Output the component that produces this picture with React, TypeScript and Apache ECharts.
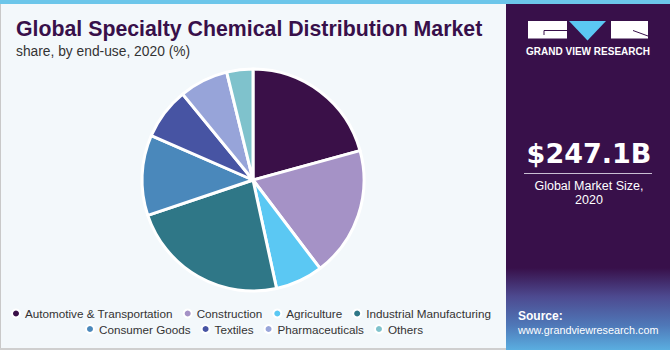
import React, { useEffect, useRef } from "react";
import * as echarts from "echarts";

const categories = [
  "Automotive & Transportation",
  "Construction",
  "Agriculture",
  "Industrial Manufacturing",
  "Consumer Goods",
  "Textiles",
  "Pharmaceuticals",
  "Others",
];
const shares = [20.7, 18.9, 6.9, 23.2, 11.7, 7.5, 7.1, 3.8];
const colors = ["#3a1048", "#a592c6", "#5bc8f3", "#2f7787", "#4a88bb", "#4754a3", "#97a4d9", "#7fc2cc"];
const legendRow1 = categories.slice(0, 4);
const legendRow2 = categories.slice(4);
const titleText = "Global Specialty Chemical Distribution Market";
const subtitleText = "share, by end-use, 2020 (%)";
const marketSize = "$247.1B";
const marketLabel = "Global Market Size,\n2020";

const PURPLE = "#38104a";

export default function App() {
  const ref = useRef<HTMLDivElement>(null);
  useEffect(() => {
    document.body.style.margin = "0";
    const chart = echarts.init(ref.current!, null, { renderer: "svg" });
    const font = "Liberation Sans, Arial, sans-serif";
    const legendBase = {
      orient: "horizontal" as const,
      itemWidth: 8,
      itemHeight: 8,
      itemGap: 10,
      padding: 0,
      icon: "circle",
      textStyle: { fontSize: 11.7, color: "#333", fontFamily: font },
      selectedMode: false,
    };
    chart.setOption({
      animation: false,
      backgroundColor: "#ffffff",
      title: {
        text: titleText,
        subtext: subtitleText,
        left: 16,
        top: 18,
        padding: 0,
        itemGap: 5,
        textStyle: { fontSize: 21.3, fontWeight: 900, color: PURPLE, fontFamily: font },
        subtextStyle: { fontSize: 13.8, color: "#333", fontFamily: font },
      },
      legend: [
        { ...legendBase, data: legendRow1, left: 11, top: 307.5 },
        { ...legendBase, data: legendRow2, left: 85, top: 323 },
      ],
      graphic: [
        // left panel background
        { type: "rect", z: -10, shape: { x: 0, y: 0, width: 506, height: 350 }, style: { fill: "#f3f8fb" } },
        { type: "rect", z: -9, shape: { x: 0, y: 0, width: 1, height: 350 }, style: { fill: "#c9c9c9" } },
        { type: "rect", z: -9, shape: { x: 0, y: 348, width: 506, height: 2 }, style: { fill: "#cfcfcf" } },
        // right panel
        { type: "rect", z: -10, shape: { x: 506, y: 0, width: 164, height: 350 }, style: { fill: PURPLE } },
        {
          type: "rect",
          z: -9,
          shape: { x: 506, y: 268, width: 164, height: 82 },
          style: {
            fill: new echarts.graphic.LinearGradient(0, 0, 0, 1, [
              { offset: 0, color: PURPLE },
              { offset: 0.35, color: "#4d4a90" },
              { offset: 0.7, color: "#4f78b8" },
              { offset: 1, color: "#5aaee0" },
            ]),
          },
        },
        // top blue bar
        { type: "rect", z: -8, shape: { x: 0, y: 0, width: 670, height: 4 }, style: { fill: "#6cc6ea" } },
        // logo
        { type: "rect", shape: { x: 528, y: 21, width: 39, height: 17.5 }, style: { fill: "#ffffff" } },
        { type: "polyline", shape: { points: [[544, 35], [544, 30.5], [567, 30.5]] }, style: { stroke: PURPLE, lineWidth: 1, fill: null } },
        { type: "polygon", shape: { points: [[569, 21], [606, 21], [587.5, 40.5]] }, style: { fill: "#5bc8f3" } },
        { type: "rect", shape: { x: 611, y: 21, width: 37, height: 17.5 }, style: { fill: "#ffffff" } },
        { type: "line", shape: { x1: 633, y1: 30.5, x2: 648, y2: 36 }, style: { stroke: PURPLE, lineWidth: 1 } },
        {
          type: "text",
          x: 588,
          y: 51,
          style: { text: "GRAND VIEW RESEARCH", fill: "#ffffff", font: "bold 10px Liberation Sans, Arial, sans-serif", align: "center", verticalAlign: "middle" },
        },
        {
          type: "text",
          x: 589,
          y: 153,
          style: { text: marketSize, fill: "#ffffff", font: "bold 27px DejaVu Sans, sans-serif", align: "center", verticalAlign: "middle" },
        },
        { type: "line", shape: { x1: 524, y1: 173.5, x2: 652, y2: 173.5 }, style: { stroke: "#c9bfd3", lineWidth: 1 } },
        {
          type: "text",
          x: 589,
          y: 193,
          style: { text: marketLabel, fill: "#ffffff", font: "12.5px Liberation Sans, Arial, sans-serif", align: "center", verticalAlign: "middle", lineHeight: 14 },
        },
        {
          type: "text",
          x: 518,
          y: 316,
          style: { text: "Source:", fill: "#ffffff", font: "bold 12px Liberation Sans, Arial, sans-serif", align: "left", verticalAlign: "middle" },
        },
        {
          type: "text",
          x: 518,
          y: 330,
          style: { text: "www.grandviewresearch.com", fill: "#ffffff", font: "10.8px Liberation Sans, Arial, sans-serif", align: "left", verticalAlign: "middle" },
        },
      ],
      series: [
        {
          type: "pie",
          center: [253, 180],
          radius: 111,
          startAngle: 90,
          clockwise: true,
          label: { show: false },
          labelLine: { show: false },
          emphasis: { disabled: true },
          itemStyle: { borderColor: "#ffffff", borderWidth: 3 },
          data: categories.map((name, i) => ({ name, value: shares[i], itemStyle: { color: colors[i] } })),
        },
      ],
    });
    return () => chart.dispose();
  }, []);
  return <div ref={ref} style={{ width: 670, height: 350 }} />;
}
